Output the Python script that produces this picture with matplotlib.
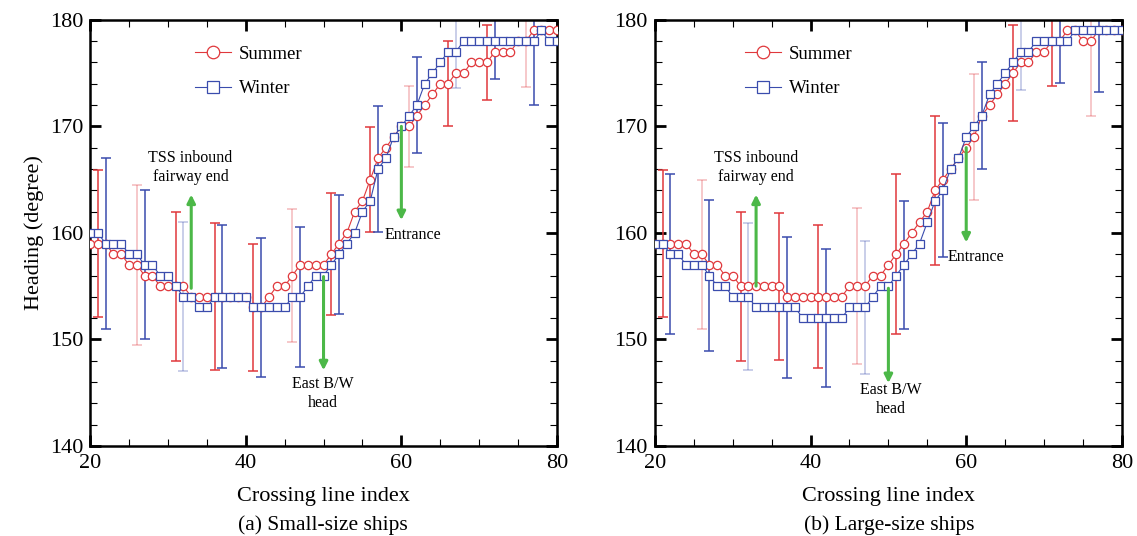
import numpy as np
import matplotlib
matplotlib.use('Agg')
import matplotlib.pyplot as plt
from matplotlib.ticker import MultipleLocator

plt.rcParams['font.family'] = ['Liberation Serif', 'DejaVu Serif']
plt.rcParams['mathtext.fontset'] = 'stix'

index = np.arange(20, 81)

# (a) small-size ships
small_summer = [159, 159, 159, 158, 158, 157, 157, 156, 156, 155,
                155, 155, 155, 154, 154, 154, 154, 154, 154, 154,
                154, 153, 153, 154, 155, 155, 156, 157, 157, 157,
                157, 158, 159, 160, 162, 163, 165, 167, 168, 169,
                170, 170, 171, 172, 173, 174, 174, 175, 175, 176,
                176, 176, 177, 177, 177, 178, 178, 179, 179, 179, 179]
small_winter = [160, 160, 159, 159, 159, 158, 158, 157, 157, 156,
                156, 155, 154, 154, 153, 153, 154, 154, 154, 154,
                154, 153, 153, 153, 153, 153, 154, 154, 155, 156,
                156, 157, 158, 159, 160, 162, 163, 166, 167, 169,
                170, 171, 172, 174, 175, 176, 177, 177, 178, 178,
                178, 178, 178, 178, 178, 178, 178, 178, 179, 178, 178]

# (b) large-size ships
large_summer = [159, 159, 159, 159, 159, 158, 158, 157, 157, 156,
                156, 155, 155, 155, 155, 155, 155, 154, 154, 154,
                154, 154, 154, 154, 154, 155, 155, 155, 156, 156,
                157, 158, 159, 160, 161, 162, 164, 165, 166, 167,
                168, 169, 171, 172, 173, 174, 175, 176, 176, 177,
                177, 178, 178, 179, 179, 178, 178, 179, 179, 179, 179]
large_winter = [159, 159, 158, 158, 157, 157, 157, 156, 155, 155,
                154, 154, 154, 153, 153, 153, 153, 153, 153, 152,
                152, 152, 152, 152, 152, 153, 153, 153, 154, 155,
                155, 156, 157, 158, 159, 161, 163, 164, 166, 167,
                169, 170, 171, 173, 174, 175, 176, 177, 177, 178,
                178, 178, 178, 178, 179, 179, 179, 179, 179, 179, 179]

# error bars (std) at every fifth crossing line
summer_err_idx = [21, 26, 31, 36, 41, 46, 51, 56, 61, 66, 71, 76]
winter_err_idx = [22, 27, 32, 37, 42, 47, 52, 57, 62, 67, 72, 77]
small_summer_err = [6.9, 7.5, 7.0, 6.9, 6.0, 6.2, 5.7, 4.9, 3.8, 4.0, 3.5, 4.3]
small_winter_err = [8.0, 7.0, 7.0, 6.7, 6.5, 6.6, 5.6, 5.9, 4.5, 3.4, 3.6, 6.0]
large_summer_err = [6.9, 7.0, 7.0, 6.9, 6.7, 7.3, 7.5, 7.0, 5.9, 4.5, 4.2, 7.0]
large_winter_err = [7.5, 7.1, 6.9, 6.6, 6.5, 6.2, 6.0, 6.3, 5.0, 3.6, 3.9, 5.8]
summer_light = [26, 46, 61, 76]
small_winter_light = [32, 67]
large_winter_light = [32, 47, 67]

# annotations: (label, text x, text y, arrow x, arrow start, arrow end)
small_notes = [('TSS inbound\nfairway end', 32.9, 166.1, 33, 154.8, 163.6),
               ('Entrance', 61.5, 159.8, 60, 170.0, 161.2),
               ('East B/W\nhead', 49.9, 144.9, 50, 155.9, 147.1)]
large_notes = [('TSS inbound\nfairway end', 33.0, 166.1, 33, 155.0, 163.6),
               ('Entrance', 61.3, 157.7, 60, 168.0, 159.1),
               ('East B/W\nhead', 50.3, 144.4, 50, 154.8, 145.9)]

RED = '#e0383c'
BLUE = '#3a4cad'
GREEN = '#4cb848'


def draw_bars(ax, x_idx, series, errs, color, light):
    for i, e in zip(x_idx, errs):
        a = 0.35 if i in light else 1.0
        ax.errorbar([i], [series[i - 20]], yerr=[e], fmt='none', ecolor=color,
                    elinewidth=1.1, capsize=3.5, capthick=1.1, alpha=a, zorder=2)


def panel(ax, summer, winter, s_err, w_err, w_light, notes, leg_x):
    draw_bars(ax, summer_err_idx, summer, s_err, RED, summer_light)
    draw_bars(ax, winter_err_idx, winter, w_err, BLUE, w_light)
    ax.plot(index, summer, '-o', color=RED, lw=0.8, ms=6, mfc='white',
            mec=RED, mew=0.9, label='Summer', zorder=3)
    ax.plot(index, winter, '-s', color=BLUE, lw=0.8, ms=5.5, mfc='white',
            mec=BLUE, mew=0.9, label='Winter', zorder=4)
    for txt, tx, ty, axx, y0, y1 in notes:
        ax.annotate('', xy=(axx, y1), xytext=(axx, y0),
                    arrowprops=dict(arrowstyle='-|>', color=GREEN, lw=2.2,
                                    mutation_scale=12, shrinkA=0, shrinkB=0),
                    zorder=5)
        ax.text(tx, ty, txt, ha='center', va='center', fontsize=11.5,
                linespacing=1.25)
    ax.set_xlim(20, 80)
    ax.set_ylim(140, 180)
    ax.xaxis.set_major_locator(MultipleLocator(20))
    ax.xaxis.set_minor_locator(MultipleLocator(5))
    ax.yaxis.set_major_locator(MultipleLocator(10))
    ax.yaxis.set_minor_locator(MultipleLocator(2))
    ax.tick_params(which='both', direction='in', top=True, right=True,
                   labelsize=16)
    ax.tick_params(which='major', length=8, width=2)
    ax.tick_params(which='minor', length=5, width=0.8)
    ax.tick_params(axis='x', pad=6)
    ax.tick_params(axis='y', pad=5)
    for s in ax.spines.values():
        s.set_linewidth(1.8)
    ax.set_xlabel('Crossing line index', fontsize=16, labelpad=10)
    ax.legend(loc='upper left', bbox_to_anchor=(leg_x, 0.94), frameon=False,
              fontsize=13.5, handlelength=1.9, handletextpad=0.45,
              labelspacing=0.95, borderpad=0, borderaxespad=0,
              markerscale=1.5)


fig = plt.figure(figsize=(11.37, 5.36), dpi=100)
ax1 = fig.add_axes([0.0792, 0.168, 0.4107, 0.795])
ax2 = fig.add_axes([0.576, 0.168, 0.4107, 0.795])

panel(ax1, small_summer, small_winter, small_summer_err, small_winter_err,
      small_winter_light, small_notes, 0.225)
panel(ax2, large_summer, large_winter, large_summer_err, large_winter_err,
      large_winter_light, large_notes, 0.193)
ax1.set_ylabel('Heading (degree)', fontsize=16, labelpad=4)

fig.text(0.284, 0.012, '(a) Small-size ships', ha='center', fontsize=15.5)
fig.text(0.782, 0.012, '(b) Large-size ships', ha='center', fontsize=15.5)

fig.savefig('out.png', dpi=100)
